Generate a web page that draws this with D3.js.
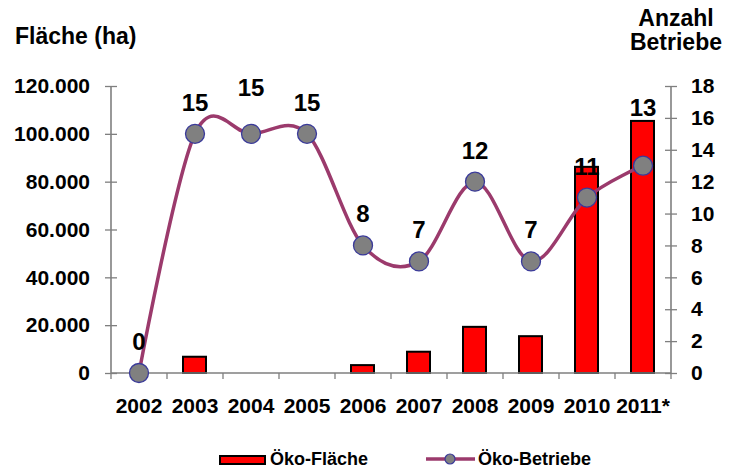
<!DOCTYPE html>
<html>
<head>
<meta charset="utf-8">
<script src="https://d3js.org/d3.v7.min.js"></script>
<style>
  html, body { margin: 0; padding: 0; background: #fff; }
  svg { display: block; }
  text { font-family: "Liberation Sans", Arial, sans-serif; font-weight: bold; fill: #000; }
</style>
</head>
<body>
<svg id="chart" width="738" height="468"></svg>
<script>
// --- data ---
const years = ["2002", "2003", "2004", "2005", "2006", "2007", "2008", "2009", "2010", "2011*"];
const flaeche = [0, 6800, 0, 0, 3300, 8900, 19300, 15400, 86200, 105400];
const betriebe = [0, 15, 15, 15, 8, 7, 12, 7, 11, 13];
const leftTicks = [0, 20000, 40000, 60000, 80000, 100000, 120000];
const rightTicks = [0, 2, 4, 6, 8, 10, 12, 14, 16, 18];

const svg = d3.select("#chart");
const plotLeft = 111, plotRight = 671, plotTop = 86, plotBottom = 373;

const x = d3.scaleBand().domain(years).range([plotLeft, plotRight]);
const yL = d3.scaleLinear().domain([0, 120000]).range([plotBottom, plotTop]);
const yR = d3.scaleLinear().domain([0, 18]).range([plotBottom, plotTop]);

const fmt = d => d === 0 ? "0" : d3.format(",")(d).replace(/,/g, ".");
const axisGrey = "#7f7f7f";
const tickFont = 21;

// bars
svg.append("g").selectAll("rect")
  .data(years.map((y, i) => ({ y, v: flaeche[i] })).filter(d => d.v > 0))
  .enter().append("rect")
  .attr("x", d => x(d.y) + x.bandwidth() / 2 - 12)
  .attr("width", 23)
  .attr("y", d => yL(d.v))
  .attr("height", d => plotBottom - yL(d.v))
  .attr("fill", "#ff0000")
  .attr("stroke", "#000")
  .attr("stroke-width", 2);

// left axis
const gL = svg.append("g").attr("transform", `translate(${plotLeft},0)`)
  .call(d3.axisLeft(yL).tickValues(leftTicks).tickFormat(fmt).tickSize(6).tickPadding(15));
gL.selectAll(".tick line").attr("x2", 6).attr("x1", -6);

// right axis
const gR = svg.append("g").attr("transform", `translate(${plotRight},0)`)
  .call(d3.axisRight(yR).tickValues(rightTicks).tickSize(6).tickPadding(14));
gR.selectAll(".tick line").attr("x1", -6).attr("x2", 6);

// x axis
const gX = svg.append("g").attr("transform", `translate(0,${plotBottom})`)
  .call(d3.axisBottom(x).tickSize(0).tickPadding(25));
gX.selectAll(".tick line").remove();
const bounds = d3.range(years.length + 1).map(i => plotLeft + i * x.step());
gX.selectAll("line.bt").data(bounds).enter().append("line")
  .attr("class", "bt")
  .attr("x1", d => d).attr("x2", d => d)
  .attr("y1", 0).attr("y2", 6);

[gL, gR, gX].forEach(g => {
  g.selectAll("text")
    .attr("font-size", tickFont)
    .style("font-family", "Liberation Sans, Arial")
    .style("font-weight", "bold")
    .attr("fill", "#000");
  g.select(".domain").attr("stroke", axisGrey).attr("stroke-width", 1.6);
  g.selectAll("line").attr("stroke", axisGrey).attr("stroke-width", 1.3);
});
gL.select(".domain").attr("d", `M0,${plotTop}V${plotBottom}`);
gR.select(".domain").attr("d", `M0,${plotTop}V${plotBottom}`);
gX.select(".domain").attr("d", `M${plotLeft},0H${plotRight}`);

// line
const cx = (d, i) => x(years[i]) + x.bandwidth() / 2;
const line = d3.line()
  .x((d, i) => cx(d, i))
  .y(d => yR(d))
  .curve(d3.curveCardinal.tension(0));
svg.append("path")
  .datum(betriebe)
  .attr("d", line)
  .attr("fill", "none")
  .attr("stroke", "#9b3a6c")
  .attr("stroke-width", 3.5);

svg.append("g").selectAll("circle")
  .data(betriebe)
  .enter().append("circle")
  .attr("cx", (d, i) => cx(d, i))
  .attr("cy", d => yR(d))
  .attr("r", 9.5)
  .attr("fill", "#808080")
  .attr("stroke", "#3a3a9a")
  .attr("stroke-width", 1.3);

// data labels (2004 and 2011 sit higher, as in the original)
const labelLift = i => i === 2 ? 15 : (i === 9 ? 27 : 0);
svg.append("g").selectAll("text")
  .data(betriebe)
  .enter().append("text")
  .attr("x", (d, i) => cx(d, i))
  .attr("y", (d, i) => yR(d) - 23 - labelLift(i))
  .attr("text-anchor", "middle")
  .attr("font-size", 24)
  .text(d => d);

// titles
svg.append("text").attr("x", 15).attr("y", 44).attr("font-size", 23).text("Fläche (ha)");
svg.append("text").attr("x", 676).attr("y", 26).attr("text-anchor", "middle").attr("font-size", 23).text("Anzahl");
svg.append("text").attr("x", 676).attr("y", 50).attr("text-anchor", "middle").attr("font-size", 23).text("Betriebe");

// legend
const lg = svg.append("g");
lg.append("rect").attr("x", 220).attr("y", 456).attr("width", 45).attr("height", 8)
  .attr("fill", "#ff0000").attr("stroke", "#000").attr("stroke-width", 2);
lg.append("text").attr("x", 270).attr("y", 465).attr("font-size", 18).text("Öko-Fläche");
lg.append("line").attr("x1", 426).attr("x2", 475).attr("y1", 459).attr("y2", 459)
  .attr("stroke", "#9b3a6c").attr("stroke-width", 3.5);
lg.append("circle").attr("cx", 450).attr("cy", 459).attr("r", 5)
  .attr("fill", "#808080").attr("stroke", "#3a3a9a").attr("stroke-width", 1.2);
lg.append("text").attr("x", 478).attr("y", 465).attr("font-size", 18).text("Öko-Betriebe");
</script>
</body>
</html>
